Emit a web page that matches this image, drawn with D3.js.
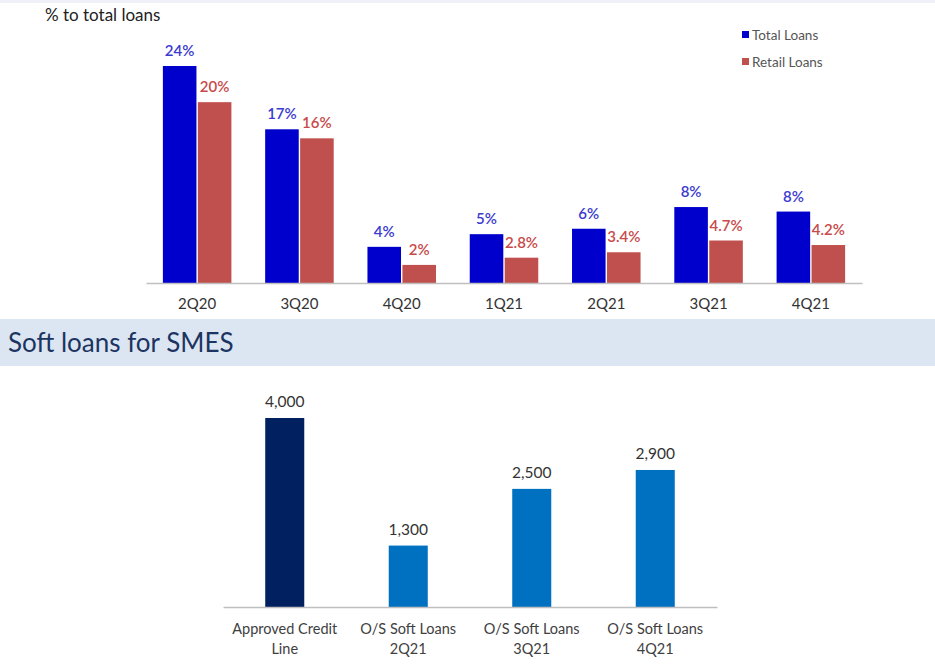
<!DOCTYPE html>
<html lang="en">
  <head>
    <meta charset="UTF-8" />
    <title>Loans under relief program / Soft loans for SMES</title>
    <script src="https://d3js.org/d3.v7.min.js"></script>
    <style>
      body { margin: 0; background: #fff; }
      svg text { font-family: Lato, "Open Sans", sans-serif; }
    </style>
  </head>
  <body>
    <div id="chart"></div>
    <script>
      // top chart: % to total loans
      const quarters = ["2Q20", "3Q20", "4Q20", "1Q21", "2Q21", "3Q21", "4Q21"];
      const totalLoans = [24, 17, 4, 5.4, 6, 8.4, 7.9];
      const retailLoans = [20, 16, 2, 2.8, 3.4, 4.7, 4.2];
      const totalLabels = ["24%", "17%", "4%", "5%", "6%", "8%", "8%"];
      const retailLabels = ["20%", "16%", "2%", "2.8%", "3.4%", "4.7%", "4.2%"];
      const seriesNames = ["Total Loans", "Retail Loans"];

      // bottom chart: soft loans for SMEs
      const softCats = [
        ["Approved Credit", "Line"],
        ["O/S Soft Loans", "2Q21"],
        ["O/S Soft Loans", "3Q21"],
        ["O/S Soft Loans", "4Q21"],
      ];
      const softValues = [4000, 1300, 2500, 2900];

      const width = 935, height = 664;
      const svg = d3.select("#chart").append("svg")
        .attr("width", width).attr("height", height);

      // faint strip at the very top
      svg.append("rect").attr("x", 0).attr("y", 0).attr("width", width).attr("height", 3)
        .attr("fill", "#eef2f8");

      // ---------- top chart ----------
      const blue = "#0000cc", red = "#c0504d";
      const base1 = 283;
      const x0 = d3.scaleBand().domain(quarters).range([146, 862]).paddingInner(0.33).paddingOuter(0.165);
      const x1 = d3.scaleBand().domain(seriesNames).range([0, x0.bandwidth()]).paddingInner(0.04);
      const y1 = d3.scaleLinear().domain([0, 24]).range([base1, base1 - 217]);

      svg.append("text").attr("x", 45).attr("y", 21)
        .attr("font-size", 17).attr("fill", "#222").text("% to total loans");

      const g1 = svg.append("g");
      const groups = g1.selectAll("g.q").data(quarters).enter().append("g")
        .attr("class", "q").attr("transform", d => `translate(${x0(d)},0)`);

      groups.append("rect")
        .attr("x", x1("Total Loans")).attr("width", x1.bandwidth())
        .attr("y", (d, i) => y1(totalLoans[i]))
        .attr("height", (d, i) => base1 - y1(totalLoans[i]))
        .attr("fill", blue);
      groups.append("rect")
        .attr("x", x1("Retail Loans")).attr("width", x1.bandwidth())
        .attr("y", (d, i) => y1(retailLoans[i]))
        .attr("height", (d, i) => base1 - y1(retailLoans[i]))
        .attr("fill", red);

      groups.append("text")
        .attr("x", x1("Total Loans") + x1.bandwidth() / 2)
        .attr("y", (d, i) => y1(totalLoans[i]) - 10)
        .attr("text-anchor", "middle").attr("font-size", 15).attr("font-weight", 600)
        .attr("fill", "#3b3bd0").text((d, i) => totalLabels[i]);
      groups.append("text")
        .attr("x", x1("Retail Loans") + x1.bandwidth() / 2)
        .attr("y", (d, i) => y1(retailLoans[i]) - 10)
        .attr("text-anchor", "middle").attr("font-size", 15).attr("font-weight", 600)
        .attr("fill", "#c84a4a").text((d, i) => retailLabels[i]);

      const ax1 = svg.append("g").attr("transform", `translate(0,${base1})`)
        .call(d3.axisBottom(x0).tickSize(0).tickPadding(15));
      ax1.select(".domain").attr("stroke", "#bfbfbf").attr("stroke-width", 1.5);
      ax1.selectAll("text").attr("font-size", 15).attr("fill", "#333")
        .style("font-family", "Lato, sans-serif");

      // legend
      const legend = svg.append("g").attr("transform", "translate(742,0)");
      const legColors = [blue, red];
      seriesNames.forEach((s, i) => {
        const ly = 35 + i * 27;
        legend.append("rect").attr("x", 0).attr("y", ly - 4).attr("width", 7).attr("height", 7)
          .attr("fill", legColors[i]);
        legend.append("text").attr("x", 10).attr("y", ly + 5)
          .attr("font-size", 13.5).attr("fill", "#555").text(s);
      });

      // ---------- section header ----------
      svg.append("rect").attr("x", 0).attr("y", 319).attr("width", width).attr("height", 47)
        .attr("fill", "#dce6f2");
      svg.append("text").attr("x", 8).attr("y", 352)
        .attr("font-size", 26).attr("fill", "#1c3461").text("Soft loans for SMES");

      // ---------- bottom chart ----------
      const base2 = 607;
      const xs = d3.scaleBand().domain(d3.range(softValues.length))
        .range([223, 717]).paddingInner(0.684).paddingOuter(0.342);
      const ys = d3.scaleLinear().domain([0, 4000]).range([base2, base2 - 189]);
      const fmt = d3.format(",");

      svg.append("g").selectAll("rect").data(softValues).enter().append("rect")
        .attr("x", (d, i) => xs(i)).attr("width", xs.bandwidth())
        .attr("y", d => ys(d)).attr("height", d => base2 - ys(d))
        .attr("fill", (d, i) => i === 0 ? "#002060" : "#0070c0");

      svg.append("g").selectAll("text").data(softValues).enter().append("text")
        .attr("x", (d, i) => xs(i) + xs.bandwidth() / 2)
        .attr("y", d => ys(d) - 11)
        .attr("text-anchor", "middle").attr("font-size", 15.5).attr("fill", "#333")
        .text(d => fmt(d));

      const ax2 = svg.append("g").attr("transform", `translate(0,${base2})`)
        .call(d3.axisBottom(xs).tickSize(0).tickFormat(""));
      ax2.select(".domain").attr("stroke", "#bfbfbf").attr("stroke-width", 1.5);

      const catLabels = svg.append("g").selectAll("text").data(softCats).enter().append("text")
        .attr("x", (d, i) => xs(i) + xs.bandwidth() / 2)
        .attr("text-anchor", "middle").attr("font-size", 14.5).attr("fill", "#404040");
      catLabels.each(function (d) {
        d3.select(this).selectAll("tspan").data(d).enter().append("tspan")
          .attr("x", d3.select(this).attr("x"))
          .attr("y", (t, j) => 634 + j * 20)
          .text(t => t);
      });
    </script>
  </body>
</html>
